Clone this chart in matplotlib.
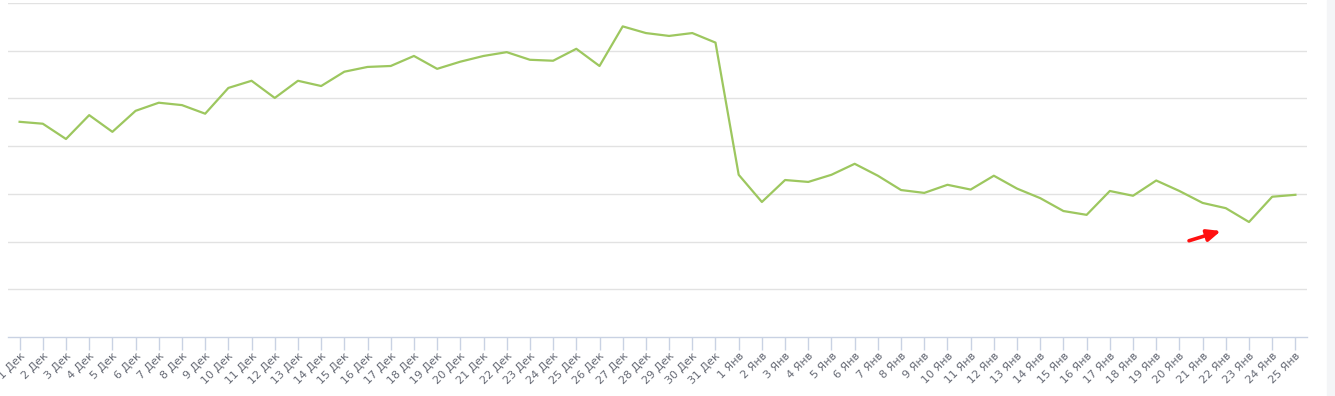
import matplotlib
matplotlib.use("Agg")
import matplotlib.pyplot as plt
from matplotlib.patches import Rectangle

dec_days = list(range(1, 32))
jan_days = list(range(1, 26))
labels = [f"{d} Дек" for d in dec_days] + [f"{d} Янв" for d in jan_days]

values = [45.1, 44.7, 41.5, 46.5, 43.0, 47.4, 49.1, 48.6, 46.8, 52.2,
          53.7, 50.1, 53.7, 52.6, 55.6, 56.6, 56.8, 58.9, 56.2, 57.7,
          58.9, 59.7, 58.1, 57.9, 60.4, 56.8, 65.1, 63.7, 63.1, 63.7,
          61.7,
          34.0, 28.3, 32.9, 32.5, 34.0, 36.3, 33.8, 30.8, 30.2, 31.9,
          30.9, 33.8, 31.1, 29.1, 26.4, 25.6, 30.6, 29.6, 32.8, 30.6,
          28.1, 27.0, 24.1, 29.4, 29.8]

fig = plt.figure(figsize=(13.35, 3.96), dpi=100)
fig.patches.append(Rectangle((1327 / 1335, 0), 8 / 1335, 1, transform=fig.transFigure,
                             color="#f4f5f7", zorder=0))
ax = fig.add_axes([8 / 1335, 59 / 396, 1299 / 1335, 334 / 396])

x = list(range(len(values)))
ax.plot(x, values, color="#9dc75f", lw=1.6, zorder=3)

ax.set_xlim(-0.5, len(values) - 0.5)
ax.set_ylim(0, 70)
ax.set_yticks(range(10, 71, 10))
ax.yaxis.grid(True, color="#e2e2e2", lw=1)
ax.set_axisbelow(True)
ax.tick_params(axis="y", left=False, labelleft=False)

for s in ["top", "right", "left"]:
    ax.spines[s].set_visible(False)
ax.spines["bottom"].set_color("#c9d2e3")
ax.spines["bottom"].set_linewidth(1)

ax.set_xticks(x)
ax.set_xticklabels(labels, rotation=45, ha="right", va="top",
                   rotation_mode="anchor", fontsize=8, color="#666a75")
ax.tick_params(axis="x", length=9, color="#c9d2e3", width=1, pad=1)

ax.annotate("", xy=(51.9, 22.4), xytext=(50.3, 20.0),
            arrowprops=dict(arrowstyle="-|>,head_length=0.8,head_width=0.35",
                            color="#ff1010", lw=2.6))

fig.savefig("out.png", dpi=100)
